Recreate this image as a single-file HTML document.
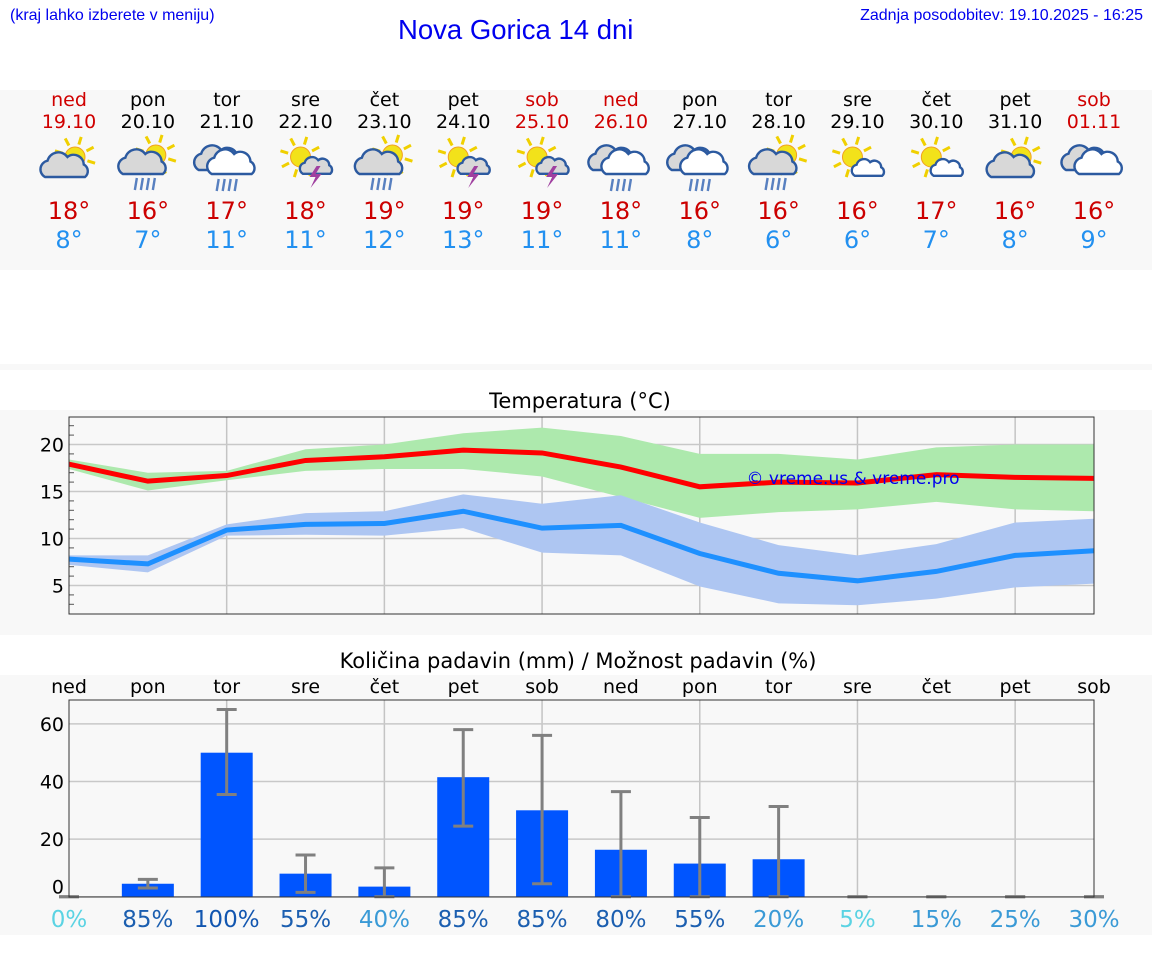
<!DOCTYPE html>
<html><head><meta charset="utf-8">
<style>
body{margin:0;width:1152px;height:975px;background:#fff;font-family:"DejaVu Sans","Liberation Sans",sans-serif;position:relative;overflow:hidden}
.abs{position:absolute}
</style></head>
<body>
<div class="abs" style="left:10px;top:7px;font:16px 'Liberation Sans',sans-serif;color:#0000ee">(kraj lahko izberete v meniju)</div>
<div class="abs" style="left:398px;top:14px;font:27.5px 'Liberation Sans',sans-serif;color:#0000ee">Nova Gorica 14 dni</div>
<div class="abs" style="right:9px;top:7px;font:16px 'Liberation Sans',sans-serif;color:#0000ee">Zadnja posodobitev: 19.10.2025 - 16:25</div>
<div class="abs" style="left:0;top:90px;width:1152px;height:180px;background:#f8f8f8"></div>
<div class="abs" style="left:0;top:364px;width:1152px;height:6px;background:#f8f8f8"></div>
<div id="days"></div>
<svg id="chart" class="abs" style="left:0;top:0" width="1152" height="975"></svg>
<script>
const dayNames=["ned","pon","tor","sre","čet","pet","sob","ned","pon","tor","sre","čet","pet","sob"];
const dates=["19.10","20.10","21.10","22.10","23.10","24.10","25.10","26.10","27.10","28.10","29.10","30.10","31.10","01.11"];
const icons=["sc","scr","cr","sl","scr","sl","sl","cr","cr","scr2","ss","ss","sc","cc"];
const maxT=[17.9,16.1,16.7,18.3,18.7,19.4,19.1,17.6,15.5,16.0,15.9,16.8,16.5,16.4];
const maxHi=[18.4,17.0,17.2,19.5,20.0,21.2,21.8,20.9,19.0,19.0,18.4,19.7,20.0,20.0];
const maxLo=[17.4,15.1,16.2,17.2,17.4,17.4,16.6,14.4,12.2,12.8,13.1,13.9,13.1,12.9];
const minT=[7.8,7.3,10.9,11.5,11.6,12.9,11.1,11.4,8.4,6.3,5.5,6.5,8.2,8.7];
const minHi=[8.2,8.2,11.5,12.7,12.9,14.7,13.7,14.6,11.7,9.3,8.2,9.4,11.7,12.1];
const minLo=[7.2,6.4,10.3,10.4,10.3,11.1,8.5,8.2,4.9,3.1,2.9,3.6,4.8,5.2];
const maxLabels=["18°","16°","17°","18°","19°","19°","19°","18°","16°","16°","16°","17°","16°","16°"];
const minLabels=["8°","7°","11°","11°","12°","13°","11°","11°","8°","6°","6°","7°","8°","9°"];
const precip=[0,4.5,50,8,3.5,41.5,30,16.3,11.5,13,0,0,0,0];
const precipHi=[0,6,65,14.5,10,58,56,36.5,27.5,31.3,0,0,0,0];
const precipLo=[0,3,35.5,1.5,0,24.5,4.5,0,0,0,0,0,0,0];
const chance=["0%","85%","100%","55%","40%","85%","85%","80%","55%","20%","5%","15%","25%","30%"];
const chanceColors=["#5bd3e3","#1c5fb0","#1256b0","#1c5fb0","#3a9ad6","#1c5fb0","#1c5fb0","#1c5fb0","#1c5fb0","#3a9ad6","#5bd3e3","#3a9ad6","#3a9ad6","#3a9ad6"];
const tTicks=[5,10,15,20];
const pTicks=[0,20,40,60];

const NS="http://www.w3.org/2000/svg";
const svg=document.getElementById('chart');
function el(tag,attrs,parent){const e=document.createElementNS(NS,tag);for(const k in attrs)e.setAttribute(k,attrs[k]);(parent||svg).appendChild(e);return e;}
const X0=69,X1=1094;
const xi=i=>X0+i*(X1-X0)/13;
const ty=v=>632.5-v*9.4;
const py=v=>896.7-v*2.88;
const red=i=>(i===0||i===6||i===7||i===13);

const days=document.getElementById('days');
for(let i=0;i<14;i++){
  const c=document.createElement('div');
  c.className='abs';
  
  
  c.style.cssText=`left:${xi(i)-40}px;top:89px;width:80px;text-align:center;color:${red(i)?'#d00000':'#000'};font-size:19px;line-height:22px`;
  c.innerHTML=`<div>${dayNames[i]}</div><div>${dates[i]}</div>`;
  days.appendChild(c);
  const t=document.createElement('div');
  t.className='abs';
  
  
  t.style.cssText=`left:${xi(i)-40}px;top:197px;width:80px;text-align:center;font-size:24px;line-height:29px`;
  t.innerHTML=`<div style="color:#cc0000">${maxLabels[i]}</div><div style="color:#2290f0">${minLabels[i]}</div>`;
  days.appendChild(t);
}
function sun(g,cx,cy,r){
  for(let k=0;k<8;k++){const a=k*Math.PI/4+0.3;el('line',{x1:cx+Math.cos(a)*(r+3),y1:cy+Math.sin(a)*(r+3),x2:cx+Math.cos(a)*(r+11),y2:cy+Math.sin(a)*(r+11),stroke:'#f0d000','stroke-width':3},g);}
  el('circle',{cx,cy,r,fill:'#f2e21a',stroke:'#f0a020','stroke-width':1},g);
}
function cloud(g,cx,cy,s,fill){
  el('path',{d:`M${cx-16*s},${cy+8*s} a${7*s} ${7*s} 0 0 1 ${2*s},${-13*s} a${9*s} ${9*s} 0 0 1 ${16*s},${-3*s} a${8*s} ${8*s} 0 0 1 ${13*s},${6*s} a${6*s} ${6*s} 0 0 1 ${1*s},${10*s} z`,fill:fill||'#d8d8d8',stroke:'#2c5aa0','stroke-width':2.4},g);
}
function rain(g,cx,cy){for(let k=0;k<4;k++)el('line',{x1:cx-9+k*6,y1:cy,x2:cx-11+k*6,y2:cy+12,stroke:'#5880c0','stroke-width':2.4},g);}
function bolt(g,cx,cy){el('path',{d:`M${cx+4},${cy} l-7,11 h6 l-5,11 l11,-14 h-6 l5,-8 z`,fill:'#a040a0'},g);}
for(let i=0;i<14;i++){
  const g=el('g',{});
  
  
  const x=xi(i),y=163,t=icons[i];
  if(t==='sc'){sun(g,x+6,y-6,10);cloud(g,x-4,y+4,1.25);}
  else if(t==='scr'||t==='scr2'){sun(g,x+8,y-8,10);cloud(g,x-5,y+1,1.25);rain(g,x-2,y+15);}
  else if(t==='cr'){cloud(g,x-8,y-3,1.25);cloud(g,x+5,y+1,1.25,'#fff');rain(g,x+1,y+16);}
  else if(t==='sl'){sun(g,x-5,y-6,10);cloud(g,x+11,y+4,0.85);bolt(g,x+7,y+3);}
  else if(t==='ss'){sun(g,x-5,y-6,10);cloud(g,x+11,y+6,0.85,'#fff');}
  else if(t==='cc'){cloud(g,x-8,y-3,1.25);cloud(g,x+5,y+1,1.25,'#fff');}
}

const tp=el('rect',{x:0,y:410,width:1152,height:225,fill:'#f8f8f8'});

const tt=el('text',{x:580,y:408,'text-anchor':'middle','font-size':21});tt.textContent='Temperatura (°C)';

for(let i=2;i<=12;i+=2)el('line',{x1:xi(i),y1:417,x2:xi(i),y2:614,stroke:'#c4c4c4','stroke-width':1.5});
for(let v=3;v<=22;v++){el('line',{x1:X0,y1:ty(v),x2:X0+5,y2:ty(v),stroke:'#555','stroke-width':1});}
tTicks.forEach(v=>{el('line',{x1:X0,y1:ty(v),x2:X1,y2:ty(v),stroke:'#c8c8c8','stroke-width':1.5});const l=el('text',{x:X0-5,y:ty(v)+7,'text-anchor':'end','font-size':19});l.textContent=v;});
function band(hi,lo,fill,name){let d='';hi.forEach((v,i)=>d+=(i?'L':'M')+xi(i)+','+ty(v));for(let i=lo.length-1;i>=0;i--)d+='L'+xi(i)+','+ty(lo[i]);const p=el('path',{d:d+'Z',fill});}
function line(a,stroke,name){const p=el('polyline',{points:a.map((v,i)=>xi(i)+','+ty(v)).join(' '),fill:'none',stroke,'stroke-width':5});}
band(maxHi,maxLo,'#ade9ad','max-temp-range');
band(minHi,minLo,'#aec6f2','min-temp-range');
line(maxT,'#ff0000','max-temp-line');
line(minT,'#1e90ff','min-temp-line');
const wm=el('text',{x:853,y:484,'text-anchor':'middle','font-size':17,fill:'#0000ee'});wm.textContent='© vreme.us & vreme.pro';

el('rect',{x:X0,y:417,width:X1-X0,height:197,fill:'none',stroke:'#333','stroke-width':1});

const pp=el('rect',{x:0,y:675,width:1152,height:260,fill:'#f8f8f8'});

const ptl=el('text',{x:578,y:668,'text-anchor':'middle','font-size':21});ptl.textContent='Količina padavin (mm) / Možnost padavin (%)';

for(let i=2;i<=12;i+=2)el('line',{x1:xi(i),y1:700,x2:xi(i),y2:897,stroke:'#c4c4c4','stroke-width':1.5});
pTicks.forEach(v=>{el('line',{x1:X0,y1:py(v),x2:X1,y2:py(v),stroke:'#c8c8c8','stroke-width':1.5});const l=el('text',{x:X0-5,y:py(v)+(v===0?-3:7),'text-anchor':'end','font-size':19});l.textContent=v;});
for(let i=0;i<14;i++){
  const d=el('text',{x:xi(i),y:693,'text-anchor':'middle','font-size':19});d.textContent=dayNames[i];
  
  const b=el('rect',{x:xi(i)-26,y:py(precip[i]),width:52,height:py(0)-py(precip[i]),fill:'#0055ff'});
  
  const e=el('g',{stroke:'#808080','stroke-width':3});
  
  el('line',{x1:xi(i),y1:py(precipHi[i]),x2:xi(i),y2:py(precipLo[i])},e);
  el('line',{x1:xi(i)-10,y1:py(precipHi[i]),x2:xi(i)+10,y2:py(precipHi[i])},e);
  el('line',{x1:xi(i)-10,y1:py(precipLo[i]),x2:xi(i)+10,y2:py(precipLo[i])},e);
  const c=el('text',{x:xi(i),y:927,'text-anchor':'middle','font-size':23,fill:chanceColors[i]});c.textContent=chance[i];
  
}
el('rect',{x:X0,y:700,width:X1-X0,height:197,fill:'none',stroke:'#333','stroke-width':1});
</script>
</body></html>
